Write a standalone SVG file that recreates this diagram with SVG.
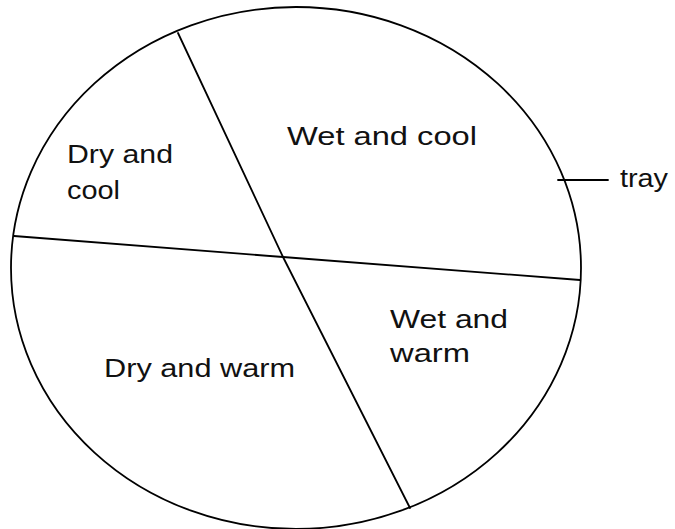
<svg xmlns="http://www.w3.org/2000/svg" width="675" height="529" viewBox="0 0 675 529">
<style>
.ln{fill:none;stroke:#000;stroke-width:1.8;stroke-linejoin:round;stroke-linecap:round}
.t{font-family:"Liberation Sans",Arial,sans-serif;font-size:26px;fill:#111}
</style>
<rect width="675" height="529" fill="#fff"/>
<g id="tray">
<ellipse class="ln" cx="296" cy="268" rx="285" ry="261" stroke-width="2"/>
</g>
<g id="connectors">
<polyline class="ln" points="178,33 283,257 410,508"/>
<polyline class="ln" points="14,236 283,257 580,280"/>
<line class="ln" x1="558" y1="180" x2="608" y2="180" stroke-width="1.4"/>
</g>
<g id="dry-cool">
<text class="t" x="67" y="163" textLength="106" lengthAdjust="spacingAndGlyphs">Dry and</text>
<text class="t" x="67" y="199" textLength="53" lengthAdjust="spacingAndGlyphs">cool</text>
</g>
<g id="wet-cool">
<text class="t" x="287" y="145" textLength="190" lengthAdjust="spacingAndGlyphs">Wet and cool</text>
</g>
<g id="wet-warm">
<text class="t" x="390" y="328" textLength="118" lengthAdjust="spacingAndGlyphs">Wet and</text>
<text class="t" x="390" y="362" textLength="80" lengthAdjust="spacingAndGlyphs">warm</text>
</g>
<g id="dry-warm">
<text class="t" x="104" y="377" textLength="191" lengthAdjust="spacingAndGlyphs">Dry and warm</text>
</g>
<g id="tray-label">
<text class="t" x="620" y="187" textLength="48" lengthAdjust="spacingAndGlyphs">tray</text>
</g>
</svg>
